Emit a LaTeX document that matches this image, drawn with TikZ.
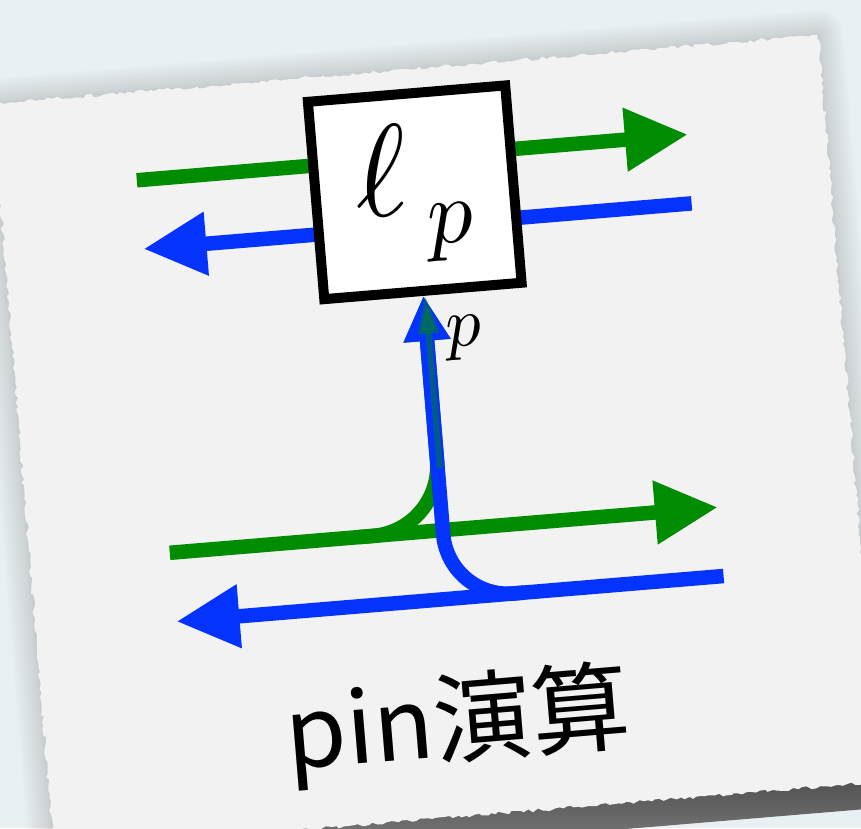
\documentclass[tikz,border=0pt]{standalone}
\usepackage{fontspec}
\usepackage{unicode-math}
\newfontfamily\cjk{Noto Sans CJK JP}
\usetikzlibrary{arrows.meta,decorations.pathmorphing}
\definecolor{bgblue}{RGB}{233,240,243}
\definecolor{paper}{RGB}{242,242,242}
\definecolor{pgreen}{RGB}{0,140,0}
\definecolor{pblue}{RGB}{4,50,255}
\tikzset{
  gline/.style={pgreen,line width=0.145cm},
  bline/.style={pblue,line width=0.145cm},
  bigtip/.style={-{Triangle[length=0.63cm,width=0.6cm]}},
  smalltip/.style={-{Triangle[length=0.45cm,width=0.44cm]}},
  lbox/.style={draw=black,fill=white,line width=0.1cm,minimum size=1.98cm,inner sep=0pt}
}

\begin{document}
\begin{tikzpicture}
\fill[bgblue] (0,0) rectangle (8.61,-8.28);
\useasboundingbox (0,0) rectangle (8.61,-8.28);
\begin{scope}[shift={(-0.08,-1.04)},rotate=4.75,every node/.style={transform shape}]
% soft shadow round the card
\foreach \w in {0.5,0.44,0.38,0.32,0.26,0.2,0.15,0.1,0.06,0.03}
  \draw[black!50,opacity=0.03,line width=\w cm,line join=round] (0,0) rectangle (8.29,-7.49);
% dark shadow under the bottom edge
\shade[top color=black!70,bottom color=black!45] (0.1,-7.42) rectangle (8.7,-7.75);
% paper
\fill[paper,decorate,decoration={random steps,segment length=1.2pt,amplitude=0.5pt}] (0,0) rectangle (8.29,-7.49);
% wires
\coordinate (gtl) at (1.38,-0.88);
\coordinate (gtr) at (6.91,-0.88);
\coordinate (btr) at (6.89,-1.57);
\coordinate (btl) at (1.39,-1.57);
\coordinate (gbl) at (1.40,-4.62);
\coordinate (gbr) at (6.90,-4.62);
\coordinate (bbr) at (6.90,-5.31);
\coordinate (bbl) at (1.41,-5.31);
\coordinate (gj) at (3.30,-4.62);
\coordinate (bj) at (4.90,-5.31);
\draw[gline,bigtip] (gtl) -- (gtr);
\draw[bline,bigtip] (btr) -- (btl);
\draw[gline,bigtip] (gbl) -- (gbr);
\draw[bline,bigtip] (bbr) -- (bbl);
\node[lbox] (lp) at (4.14,-1.23) {\fontsize{37}{44}\selectfont$\ell_{\,p}$};
\coordinate (gv) at (4.16,-4.0);
% pin
\draw[gline,smalltip,rounded corners=0.7cm] (gj) -- (gj -| lp.south) -- (lp.south);
\draw[bline,smalltip,rounded corners=0.65cm] (bj) -- (bj -| lp.south) -- (lp.south);
\draw[pgreen,opacity=0.45,line width=0.06cm,-{Triangle[length=0.38cm,width=0.2cm]}] (gv) -- (gv |- lp.south);
\node (plab) at (4.52,-2.72) {\fontsize{20}{24}\selectfont$p$};
\node (title) at (4.13,-6.575) {\fontsize{28}{34}\selectfont\cjk pin演算};
\end{scope}
\end{tikzpicture}
\end{document}
